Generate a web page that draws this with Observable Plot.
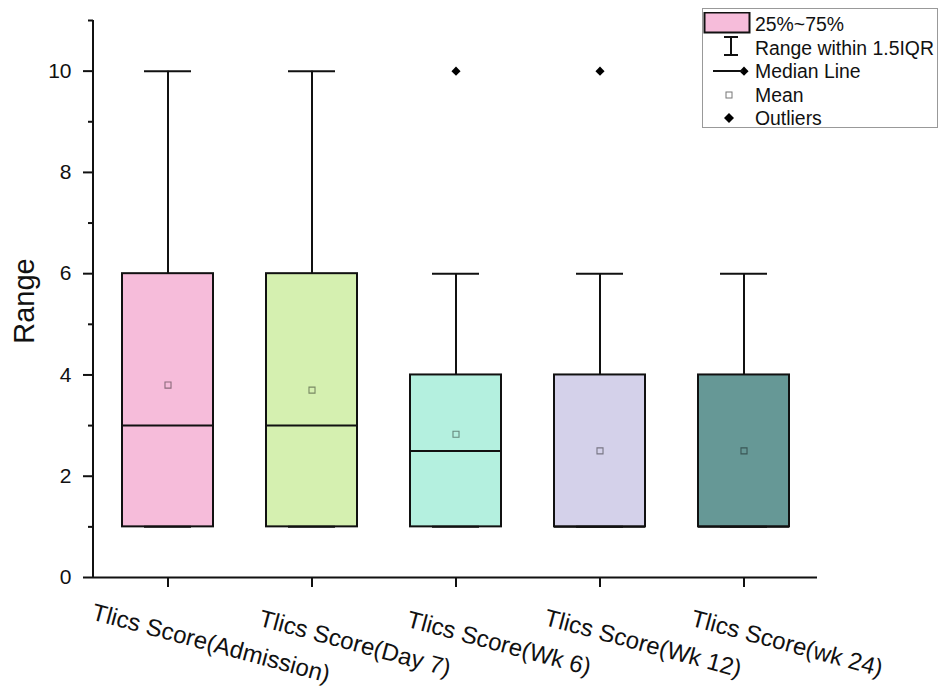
<!DOCTYPE html>
<html>
<head>
<meta charset="utf-8">
<script src="https://cdn.jsdelivr.net/npm/d3@7"></script>
<script src="https://cdn.jsdelivr.net/npm/@observablehq/plot@0.6"></script>
<style>
  html, body { margin: 0; padding: 0; background: #fff; }
  #wrap { position: relative; width: 941px; height: 688px; font-family: "Liberation Sans", Arial, sans-serif; }
  #legend { position: absolute; left: 702px; top: 8px; width: 236px; height: 120px; border: 1px solid #999; box-sizing: border-box; font-size: 19.4px; color: #111; overflow: hidden; }
  #legend .row { position: absolute; left: 0; height: 24px; width: 100%; }
  #legend .ico { position: absolute; left: 0; top: 0; width: 50px; height: 24px; }
  #legend .lbl { position: absolute; left: 52px; top: 0; line-height: 24px; white-space: nowrap; }
</style>
</head>
<body>
<div id="wrap"></div>
<script>
const categories = ["Tlics Score(Admission)", "Tlics Score(Day 7)", "Tlics Score(Wk 6)", "Tlics Score(Wk 12)", "Tlics Score(wk 24)"];
const mins    = [1, 1, 1, 1, 1];
const q1s     = [1, 1, 1, 1, 1];
const medians = [3, 3, 2.5, 1, 1];
const q3s     = [6, 6, 4, 4, 4];
const maxs    = [10, 10, 6, 6, 6];
const means   = [3.8, 3.7, 2.83, 2.5, 2.5];
const outlierCategories = ["Tlics Score(Wk 6)", "Tlics Score(Wk 12)", "Tlics Score(wk 24)"];
const outlierValues = [10, 10, 10];
const fills = ["#F6BCDA", "#D5F0B0", "#B4F0DF", "#D4D1EA", "#669896"];
const yMajorTicks = [0, 2, 4, 6, 8, 10];
const yMinorTicks = [1, 3, 5, 7, 9, 11];
const legendLabels = ["25%~75%", "Range within 1.5IQR", "Median Line", "Mean", "Outliers"];

const rows = categories.map((c, i) => ({
  cat: c, min: mins[i], q1: q1s[i], median: medians[i], q3: q3s[i], max: maxs[i], mean: means[i],
  fill: fills[i], meanStroke: d3.color(fills[i]).darker(1.6).formatHex()
}));
const outliers = outlierCategories.map((c, i) => ({cat: c, value: outlierValues[i]}));

const chart = Plot.plot({
  width: 941,
  height: 688,
  marginLeft: 93,
  marginRight: 124,
  marginTop: 20,
  marginBottom: 111,
  style: {fontFamily: "Liberation Sans, Arial, sans-serif", color: "#111", background: "white"},
  x: {domain: categories, type: "band", paddingInner: 0.37, paddingOuter: 0.185, axis: null},
  y: {domain: [0, 11], axis: null},
  color: {type: "identity"},
  marks: [
    Plot.barY(rows, {x: "cat", y1: "q1", y2: "q3", fill: "fill", stroke: "#111", strokeWidth: 2}),
    Plot.tickY(rows, {x: "cat", y: "median", stroke: "#111", strokeWidth: 2}),
    Plot.ruleX(rows, {x: "cat", y1: "q3", y2: "max", stroke: "#111", strokeWidth: 2}),
    Plot.ruleX(rows, {x: "cat", y1: "min", y2: "q1", stroke: "#111", strokeWidth: 2}),
    Plot.tickY(rows, {x: "cat", y: "max", insetLeft: 22, insetRight: 22, stroke: "#111", strokeWidth: 2}),
    Plot.tickY(rows, {x: "cat", y: "min", insetLeft: 22, insetRight: 22, stroke: "#111", strokeWidth: 2}),
    Plot.dot(rows, {x: "cat", y: "mean", symbol: "square", r: 3.4, fill: "none", stroke: "meanStroke", strokeWidth: 1.1}),
    Plot.dot(outliers, {x: "cat", y: "value", symbol: "diamond2", r: 4.1, fill: "#000", stroke: "none"}),
    Plot.ruleY([0], {stroke: "#111", strokeWidth: 2}),
    Plot.axisY({ticks: yMajorTicks, tickSize: 10, tickPadding: 12, fontSize: 21, strokeWidth: 2, label: null, tickFormat: d => String(d)}),
    Plot.axisY({ticks: yMinorTicks, tickSize: 5, strokeWidth: 2, label: null, tickFormat: () => ""}),
    Plot.axisX({tickSize: 10, strokeWidth: 2, label: null, tickFormat: () => ""}),
    Plot.text(categories, {x: d => d, frameAnchor: "bottom", dy: 66, dx: 43, rotate: 15, textAnchor: "middle", lineAnchor: "middle", fontSize: 24, fill: "#111", text: d => d}),
    Plot.text(["Range"], {frameAnchor: "left", dx: -69, dy: 2, rotate: -90, textAnchor: "middle", lineAnchor: "middle", fontSize: 29, fill: "#111", text: d => d})
  ]
});

// left axis line drawn from the y scale's range
const ys = chart.scale("y");
const svgNS = "http://www.w3.org/2000/svg";
const ln = document.createElementNS(svgNS, "line");
ln.setAttribute("x1", 93); ln.setAttribute("x2", 93);
ln.setAttribute("y1", ys.range[0] + 1); ln.setAttribute("y2", ys.range[1]);
ln.setAttribute("stroke", "#111"); ln.setAttribute("stroke-width", 2);
chart.appendChild(ln);

const wrap = document.getElementById("wrap");
wrap.appendChild(chart);

// legend
const legend = document.createElement("div");
legend.id = "legend";
const icons = [
  `<svg class="ico" viewBox="0 0 50 24"><rect x="1.5" y="0.5" width="45" height="20" fill="${fills[0]}" stroke="#111" stroke-width="2"/></svg>`,
  `<svg class="ico" viewBox="0 0 50 24"><line x1="28" y1="1" x2="28" y2="19" stroke="#111" stroke-width="2"/><line x1="21" y1="1" x2="35" y2="1" stroke="#111" stroke-width="2"/><line x1="21" y1="19" x2="35" y2="19" stroke="#111" stroke-width="2"/></svg>`,
  `<svg class="ico" viewBox="0 0 50 24"><line x1="10" y1="12" x2="40" y2="12" stroke="#111" stroke-width="2"/></svg>`,
  `<svg class="ico" viewBox="0 0 50 24"><rect x="23" y="9" width="6" height="6" fill="none" stroke="#777" stroke-width="1"/></svg>`,
  `<svg class="ico" viewBox="0 0 50 24"><path d="M26,7 L31,12 L26,17 L21,12 Z" fill="#000"/></svg>`
];
legendLabels.forEach((t, i) => {
  const r = document.createElement("div");
  r.className = "row";
  r.style.top = (3 + i * 23.5) + "px";
  r.innerHTML = icons[i] + `<span class="lbl">${t}</span>`;
  legend.appendChild(r);
});
wrap.appendChild(legend);
</script>
</body>
</html>
